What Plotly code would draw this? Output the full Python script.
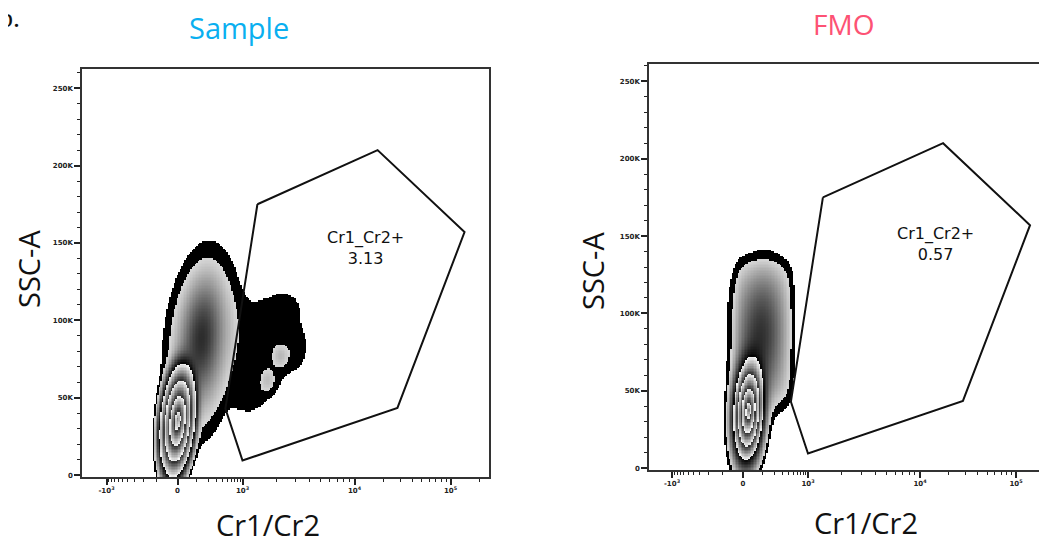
import numpy as np
import plotly.graph_objects as go

# ---------------- axis definitions ----------------
X_TICK_VALUES = [-1000, 0, 1000, 10000, 100000]
X_TICK_LABELS = ["-10<sup>3</sup>", "0", "10<sup>3</sup>", "10<sup>4</sup>", "10<sup>5</sup>"]
X_MINOR_VALUES = ([-900, -800, -700, -600, -500, -400, -300, -200, -100]
                  + [100, 200, 300, 400, 500, 600, 700, 800, 900]
                  + [2000, 3000, 4000, 5000, 6000, 7000, 8000, 9000]
                  + [20000, 30000, 40000, 50000, 60000, 70000, 80000, 90000]
                  + [200000])
Y_TICK_VALUES = [0, 50000, 100000, 150000, 200000, 250000]
Y_TICK_LABELS = ["0", "50K", "100K", "150K", "200K", "250K"]
Y_MINOR_VALUES = [v for v in range(10000, 270000, 10000) if v % 50000 != 0]

# ---------------- gate (same gate on both plots) ----------------
GATE_CR = [1360, 17400, 140000, 28000, 1000, 450]
GATE_SSC = [175000, 210000, 157000, 43500, 9500, 43000]
GATE_NAME = "Cr1_Cr2+"
SAMPLE_FREQ = "3.13"
FMO_FREQ = "0.57"

# ---------------- populations (centre, spread, shape, weight) ----------------
# core, body, dense body centre, Cr1_Cr2+ cluster base, upper lobe,
# two dense spots, bridge, right bulge
SAMPLE_POP_CR = [0, 135, 135, 1740, 2525, 2160, 1655, 1100, 3000]
SAMPLE_POP_SSC = [35000, 85000, 88000, 88000, 108000, 77000, 61000, 50000, 82000]
SAMPLE_POP_SDX = [11, 25.4, 10, 32, 12, 5.5, 5.5, 14, 8]
SAMPLE_POP_SDS = [22000, 42000, 18000, 28000, 9000, 5000, 5500, 8000, 10000]
SAMPLE_POP_RHO = [0.25, 0.2, 0.2, 0.0, 0.0, 0.0, 0.0, 0.0, 0.0]
SAMPLE_POP_P = [3, 3, 2, 3, 3, 2, 2, 3, 3]
SAMPLE_POP_W = [1.0, 0.02, 0.05, 0.0042, 0.0015, 0.009, 0.009, 0.0045, 0.002]

# core, body, dense body centre, upper/right shoulder
FMO_POP_CR = [25, 85, 90, 120]
FMO_POP_SSC = [37000, 85000, 85000, 88000]
FMO_POP_SDX = [7.1, 23.7, 12, 26]
FMO_POP_SDS = [15000, 36800, 22000, 42000]
FMO_POP_RHO = [0.15, 0.0, 0.1, 0.0]
FMO_POP_P = [2, 4, 2, 8]
FMO_POP_W = [1.0, 0.012, 0.05, 0.0045]

# density levels of the zebra plot
T0, T1, T2 = 0.0028, 0.007, 0.11
ZEBRA_RINGS = 3.6
SAMPLE_RING_EXP = 1 / 3.0
FMO_RING_EXP = 1 / 2.0

# ---------------- display transform (biexponential) ----------------
COF = 100.0
DISPLAY_ANCHOR = [-71, 0, 65, 177, 273]


def fwd(v):
    v = np.atleast_1d(np.asarray(v, dtype=float))
    s = np.arcsinh(v / COF)
    sa = np.arcsinh(np.array(X_TICK_VALUES, float) / COF)
    da = np.array(DISPLAY_ANCHOR, float)
    d = np.interp(s, sa, da)
    lo = s < sa[0]
    hi = s > sa[-1]
    d[lo] = da[0] + (s[lo] - sa[0]) * (da[1] - da[0]) / (sa[1] - sa[0])
    d[hi] = da[-1] + (s[hi] - sa[-1]) * (da[-1] - da[-2]) / (sa[-1] - sa[-2])
    return d


def density(gx, gy, cr, ssc, sdx, sds, rho, pw, w):
    """p<=3: elliptical profile exp(-q^(p/2)/2); p>=4: superellipse (boxy) profile."""
    dg, sg = np.meshgrid(gx, gy)
    tot = np.zeros_like(dg)
    cx = fwd(cr)
    for i in range(len(cr)):
        a = (dg - cx[i]) / sdx[i]
        b = (sg - ssc[i]) / sds[i]
        r = rho[i]
        if pw[i] <= 3:
            q = (a * a + b * b - 2 * r * a * b) / (1 - r * r)
            u = q ** (pw[i] / 2.0)
        else:
            u = np.abs(a - r * b) ** pw[i] + np.abs(b) ** pw[i]
        tot += w[i] * np.exp(-0.5 * u)
    return tot


def zebra(D, ring_exp):
    z = np.full(D.shape, np.nan)
    dmax = D.max()
    m0 = (D >= T0) & (D < T1)
    z[m0] = 0.0
    m1 = (D >= T1) & (D < T2)
    f = (np.log(D[m1]) - np.log(T1)) / (np.log(T2) - np.log(T1))
    z[m1] = 0.84 - 0.84 * f ** 1.3
    m2 = D >= T2
    c = np.log(dmax / D[m2]) ** ring_exp
    c2 = np.log(dmax / T2) ** ring_exp
    g = ((c2 - c) / (c2 / ZEBRA_RINGS)) % 1.0
    z[m2] = 0.97 - 0.8 * g
    return np.round(z, 3)


# page has an 8px body margin; work in page pixels
OFF = 8
W, H = 1047 - OFF, 543 - OFF


def px(x):
    return (x - OFF) / W


def py(y):
    return 1 - (y - OFF) / H


fig = go.Figure()

panels = [
    dict(xa="x", ya="y", ring=SAMPLE_RING_EXP,
         pops=(SAMPLE_POP_CR, SAMPLE_POP_SSC, SAMPLE_POP_SDX, SAMPLE_POP_SDS,
               SAMPLE_POP_RHO, SAMPLE_POP_P, SAMPLE_POP_W),
         gx=np.arange(-45, 145, 1.5)),
    dict(xa="x2", ya="y2", ring=FMO_RING_EXP,
         pops=(FMO_POP_CR, FMO_POP_SSC, FMO_POP_SDX, FMO_POP_SDS,
               FMO_POP_RHO, FMO_POP_P, FMO_POP_W),
         gx=np.arange(-45, 90, 1.5)),
]
gy = np.arange(-1300, 180000, 1000)

for p in panels:
    D = density(p["gx"], gy, *p["pops"])
    Z = zebra(D, p["ring"])
    fig.add_trace(go.Heatmap(x=p["gx"], y=gy, z=Z, zmin=0, zmax=1,
                             colorscale=[[0, "#000000"], [1, "#ffffff"]],
                             showscale=False, hoverinfo="skip",
                             xaxis=p["xa"], yaxis=p["ya"]))
    gxs = fwd(GATE_CR + GATE_CR[:1])
    fig.add_trace(go.Scatter(x=gxs, y=GATE_SSC + GATE_SSC[:1], mode="lines",
                             line=dict(color="#111111", width=2),
                             hoverinfo="skip", showlegend=False,
                             xaxis=p["xa"], yaxis=p["ya"]))

tickfont = dict(family="DejaVu Sans", size=7, color="#222222", weight="bold")


def xaxis_cfg(domain, rng, anchor):
    return dict(domain=domain, range=rng, showgrid=False, zeroline=False, anchor=anchor,
                showline=True, linecolor="#333333", linewidth=1.5, mirror=True,
                tickmode="array", tickvals=fwd(X_TICK_VALUES), ticktext=X_TICK_LABELS,
                ticks="outside", ticklen=6, tickwidth=2, tickcolor="#222222",
                tickfont=tickfont,
                minor=dict(tickmode="array", tickvals=fwd(X_MINOR_VALUES), ticks="outside",
                           ticklen=3, tickwidth=1, tickcolor="#222222", showgrid=False))


def yaxis_cfg(domain, rng, mirror, anchor):
    return dict(domain=domain, range=rng, showgrid=False, zeroline=False, anchor=anchor,
                showline=True, linecolor="#333333", linewidth=1.5, mirror=mirror,
                tickmode="array", tickvals=Y_TICK_VALUES, ticktext=Y_TICK_LABELS,
                ticks="outside", ticklen=6, tickwidth=2, tickcolor="#222222",
                tickfont=tickfont,
                minor=dict(tickmode="array", tickvals=Y_MINOR_VALUES, ticks="outside",
                           ticklen=3, tickwidth=1, tickcolor="#222222", showgrid=False))


fig.update_layout(
    width=W, height=H, margin=dict(l=0, r=0, t=0, b=0),
    paper_bgcolor="white", plot_bgcolor="white", showlegend=False,
    xaxis=xaxis_cfg([px(82), px(489)], [-95.5, 311.5], "y"),
    yaxis=yaxis_cfg([py(479), py(69)], [-1300, 262500], True, "x"),
    xaxis2=xaxis_cfg([px(649), 1.0], [-94, 304], "y2"),
    yaxis2=yaxis_cfg([py(472), py(64)], [-1300, 261300], False, "x2"),
)

big = dict(family="Open Sans", size=29, color="#111111")
ann = [
    dict(text="b.", x=px(-3), y=py(18), xanchor="left", yanchor="middle",
         font=dict(family="Liberation Serif", size=28, color="#111111")),
    dict(text="Sample", x=px(239), y=py(28), xanchor="center", yanchor="middle",
         font=dict(family="Open Sans", size=29, color="#0aaff0")),
    dict(text="FMO", x=px(843), y=py(24), xanchor="center", yanchor="middle",
         font=dict(family="Open Sans", size=28, color="#fd5274")),
    dict(text="SSC-A", x=px(28), y=py(270), textangle=-90, xanchor="center", yanchor="middle", font=big),
    dict(text="SSC-A", x=px(592), y=py(272), textangle=-90, xanchor="center", yanchor="middle", font=big),
    dict(text="Cr1/Cr2", x=px(268), y=py(526), xanchor="center", yanchor="middle", font=big),
    dict(text="Cr1/Cr2", x=px(866), y=py(524), xanchor="center", yanchor="middle", font=big),
    dict(text=GATE_NAME + "<br>" + SAMPLE_FREQ, x=188, y=147000, xref="x", yref="y",
         xanchor="center", yanchor="middle", showarrow=False,
         font=dict(family="DejaVu Sans", size=16, color="#111111")),
    dict(text=GATE_NAME + "<br>" + FMO_FREQ, x=192, y=145000, xref="x2", yref="y2",
         xanchor="center", yanchor="middle", showarrow=False,
         font=dict(family="DejaVu Sans", size=16, color="#111111")),
]
for a in ann:
    a.setdefault("xref", "paper")
    a.setdefault("yref", "paper")
    a.setdefault("showarrow", False)
fig.update_layout(annotations=ann)

fig.write_html("out.html")
